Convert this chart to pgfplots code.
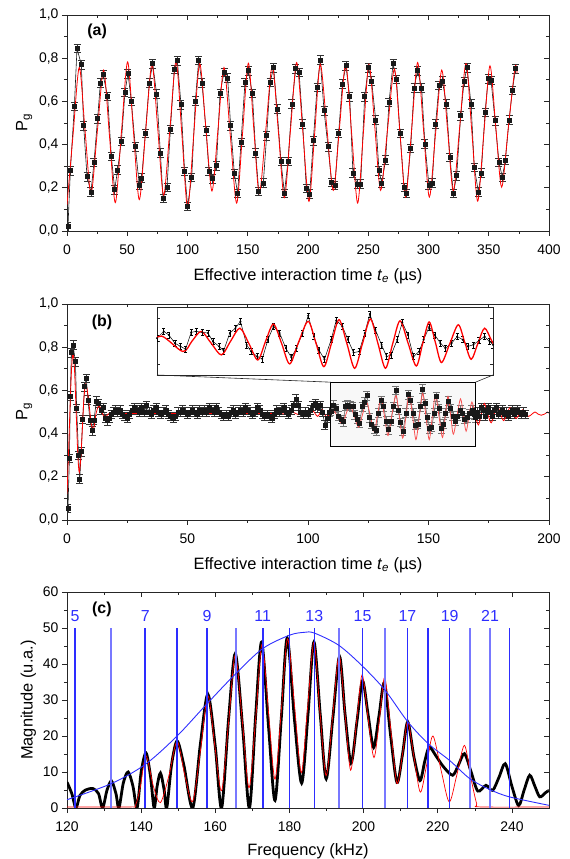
\documentclass[border=0pt]{standalone}
\usepackage{fontspec}
\setmainfont{Liberation Sans}
\usepackage{pgfplots}
\usepackage{pgfplotstable}
\pgfplotsset{compat=1.18}

\definecolor{lineblue}{RGB}{45,45,255}
\definecolor{lightblue}{RGB}{120,120,255}

\pgfplotsset{
  panel/.style={width=482bp, height=216bp, scale only axis,
    axis line style={line width=0.9pt, black!85},
    tick style={line width=0.7pt, black!85},
    tick align=outside, tick pos=left,
    major tick length=5bp, minor tick length=3bp, minor tick num=1,
    tick label style={font=\fontsize{14}{16}\selectfont},
    label style={font=\fontsize{16.5}{19}\selectfont},
    xticklabel shift=5bp, xlabel style={yshift=-7bp},
    /pgf/number format/assume math mode=true},
  frameticks/.style={width=482bp, height=216bp, scale only axis,
    axis line style={draw=none},
    tick style={line width=0.7pt, black!85},
    tick align=inside, tick pos=right,
    major tick length=5bp, minor tick length=3bp, minor tick num=1,
    xticklabels={}, yticklabels={}},
  commaticks/.style={yticklabel style={/pgf/number format/.cd, use comma, fixed, fixed zerofill, precision=1}},
  datapts/.style={black!90, line width=0.6pt, mark=square*, mark size=2bp,
    error bars/.cd, y dir=both, y fixed=0.02,
    error bar style={line width=0.6pt, black!80},
    error mark options={rotate=90, mark size=3.5bp, line width=0.6pt}},
}

% panel (a): measured P_g
\pgfplotstableread{
t v
0.8 0.02
2.8 0.28
6.1 0.577
8.3 0.845
11.9 0.77
13.8 0.488
16.6 0.252
19.9 0.18
22.4 0.318
25.4 0.52
27.7 0.685
29.9 0.726
33.7 0.623
36.8 0.345
39.6 0.192
42.0 0.283
45.1 0.415
48.1 0.642
50.6 0.729
53.4 0.60
56.7 0.39
60.0 0.212
62.0 0.246
65.0 0.452
68.3 0.686
71.1 0.775
74.4 0.634
77.5 0.362
79.7 0.152
83.0 0.203
85.8 0.471
89.1 0.748
91.6 0.789
94.6 0.585
97.6 0.277
100.1 0.115
103.5 0.249
106.5 0.602
109.3 0.791
112.0 0.686
115.4 0.465
117.8 0.277
120.9 0.242
124.0 0.303
127.0 0.638
130.3 0.734
133.3 0.708
135.8 0.488
138.9 0.265
141.6 0.174
144.4 0.411
147.7 0.688
150.5 0.742
153.8 0.637
156.6 0.362
159.1 0.183
162.9 0.222
165.7 0.442
168.5 0.688
171.5 0.757
174.3 0.565
177.6 0.322
180.4 0.175
183.4 0.323
186.7 0.588
189.8 0.751
192.6 0.734
195.6 0.495
198.6 0.197
201.4 0.172
204.4 0.418
207.5 0.665
210.2 0.792
213.3 0.557
216.6 0.391
219.6 0.226
222.4 0.211
225.4 0.452
228.5 0.68
231.5 0.765
234.6 0.622
237.3 0.268
240.9 0.218
243.7 0.218
247.0 0.622
250.1 0.757
252.8 0.695
256.2 0.514
258.9 0.28
261.2 0.223
264.4 0.329
267.2 0.595
270.6 0.775
273.4 0.703
276.4 0.452
279.7 0.203
281.6 0.175
285.2 0.383
288.0 0.662
291.0 0.742
294.3 0.662
297.0 0.403
300.4 0.211
303.1 0.222
305.9 0.495
308.7 0.675
311.5 0.695
314.8 0.588
317.8 0.342
320.6 0.175
323.4 0.257
326.7 0.534
329.5 0.691
332.0 0.757
335.3 0.588
338.0 0.295
341.4 0.18
343.8 0.269
346.9 0.549
349.6 0.706
351.9 0.698
355.2 0.511
358.5 0.318
361.3 0.249
363.8 0.329
366.9 0.514
369.6 0.652
372.3 0.752
}\adata

% panel (a): fit
\pgfplotstableread{
t v
0 0.12
5.1 0.45
10.2 0.757
15.05 0.46
19.9 0.172
25.15 0.46
30.4 0.745
35.25 0.44
40.1 0.131
45.2 0.46
50.3 0.783
55.15 0.46
60.0 0.145
65.25 0.46
70.5 0.772
75.35 0.47
80.2 0.165
85.35 0.47
90.5 0.785
95.3 0.45
100.1 0.108
105.1 0.44
110.1 0.775
115.2 0.48
120.3 0.185
125.3 0.47
130.3 0.757
135.55 0.44
140.8 0.129
145.65 0.45
150.5 0.777
155.05 0.47
159.6 0.172
165.0 0.47
170.4 0.765
175.4 0.46
180.4 0.154
185.5 0.47
190.6 0.78
195.7 0.46
200.8 0.137
205.5 0.45
210.2 0.772
215.6 0.48
221.0 0.188
226.15 0.48
231.3 0.772
236.25 0.45
241.2 0.129
245.9 0.45
250.6 0.772
255.45 0.48
260.3 0.188
266.0 0.47
271.7 0.75
276.35 0.45
281.0 0.157
286.0 0.47
291.0 0.78
295.85 0.47
300.7 0.157
305.85 0.45
311.0 0.745
315.8 0.47
320.6 0.185
325.85 0.48
331.1 0.775
335.95 0.46
340.8 0.138
345.9 0.45
351.0 0.765
355.85 0.48
360.7 0.203
366.25 0.48
371.8 0.757
373.5 0.73
}\afit

% panel (b): measured P_g
\pgfplotstableread{
t v
0.4 0.054
1.0 0.285
1.4 0.574
1.8 0.775
2.5 0.81
3.5 0.733
4.0 0.517
4.8 0.30
5.3 0.19
5.9 0.316
6.5 0.466
7.3 0.617
8.0 0.656
8.7 0.556
9.5 0.463
10.4 0.414
11.2 0.463
12.2 0.551
13.1 0.54
14.1 0.509
15.0 0.52
15.8 0.47
16.6 0.46
17.5 0.47
18.3 0.49
19.2 0.50
20.0 0.51
21.0 0.50
22.0 0.51
23.0 0.49
24.0 0.48
25.0 0.47
26.0 0.49
27.0 0.51
28.0 0.52
29.0 0.51
30.0 0.50
31.0 0.52
32.0 0.50
33.0 0.53
34.0 0.50
35.0 0.49
36.0 0.51
37.0 0.52
38.0 0.50
39.0 0.49
40.0 0.50
41.0 0.51
42.0 0.49
43.0 0.48
44.0 0.47
45.0 0.48
46.0 0.50
47.0 0.50
48.0 0.51
49.0 0.50
50.0 0.49
51.0 0.50
52.0 0.51
53.0 0.50
54.0 0.49
55.0 0.51
56.0 0.50
57.0 0.51
58.0 0.50
59.0 0.52
60.0 0.51
61.0 0.50
62.0 0.52
63.0 0.50
64.0 0.49
65.0 0.48
66.0 0.49
67.0 0.48
68.0 0.50
69.0 0.51
70.0 0.49
71.0 0.50
72.0 0.51
73.0 0.50
74.0 0.52
75.0 0.51
76.0 0.50
77.0 0.49
78.0 0.50
79.0 0.52
80.0 0.51
81.0 0.49
82.0 0.48
83.0 0.49
84.0 0.48
85.0 0.47
86.0 0.49
87.0 0.51
88.0 0.50
89.0 0.51
90.0 0.52
91.0 0.50
92.0 0.49
93.0 0.51
94.0 0.53
95.0 0.56
96.0 0.53
97.0 0.50
98.0 0.49
99.0 0.50
100.0 0.49
101.0 0.51
102.0 0.53
103.0 0.54
104.0 0.52
105.0 0.53
106.0 0.50
107.0 0.44
108.0 0.47
108.8 0.50
109.5 0.503
110.7 0.532
111.6 0.517
112.7 0.481
113.7 0.467
114.6 0.455
115.6 0.528
116.5 0.532
117.6 0.528
118.6 0.525
119.5 0.488
120.6 0.467
121.4 0.448
122.5 0.525
123.5 0.546
124.4 0.576
125.5 0.474
126.3 0.445
127.4 0.423
128.3 0.413
129.3 0.496
130.3 0.554
131.4 0.525
132.5 0.459
133.5 0.419
134.4 0.459
135.5 0.525
136.5 0.600
137.5 0.510
138.4 0.452
139.4 0.411
140.6 0.496
141.5 0.580
142.6 0.554
143.6 0.496
144.6 0.440
145.6 0.445
146.6 0.525
147.5 0.607
148.5 0.539
149.6 0.474
150.5 0.423
151.3 0.430
152.4 0.496
153.3 0.571
154.3 0.517
155.3 0.423
156.3 0.445
157.1 0.496
158.1 0.551
159.1 0.517
160.1 0.481
161.0 0.459
162.1 0.481
163.1 0.510
164.1 0.496
165.0 0.467
166.0 0.474
167.0 0.493
168.0 0.510
168.9 0.488
169.5 0.474
170.3 0.50
171.0 0.48
171.8 0.52
172.6 0.51
173.4 0.48
174.2 0.50
175.0 0.52
175.8 0.50
176.6 0.48
177.4 0.51
178.2 0.52
179.0 0.49
179.8 0.50
180.6 0.51
181.4 0.49
182.2 0.50
183.0 0.48
183.8 0.50
184.6 0.51
185.4 0.49
186.2 0.50
187.0 0.51
187.8 0.50
188.6 0.49
189.4 0.50
190.2 0.49
}\bdata

% panel (b): fit
\pgfplotstableread{
t v
0 0.12
0.6 0.30
1.2 0.50
1.9 0.70
2.5 0.77
3.1 0.70
3.8 0.50
4.5 0.30
5.1 0.22
5.8 0.30
6.4 0.43
7.0 0.56
7.7 0.63
8.4 0.60
9.2 0.53
10.0 0.45
10.8 0.42
11.4 0.44
12.0 0.49
13.2 0.53
14.4 0.50
15.7 0.475
17.0 0.49
18.5 0.497
20 0.493
40 0.493
60 0.493
80 0.493
88 0.493
90 0.491
92 0.495
94 0.498
96 0.488
98 0.500
100 0.484
102 0.505
104 0.480
106 0.510
107.8 0.475
110.3 0.512
114.1 0.445
115.75 0.49
117.4 0.532
119.2 0.48
121.0 0.430
122.65 0.49
124.3 0.546
125.9 0.48
127.5 0.408
128.9 0.49
130.3 0.564
131.75 0.48
133.2 0.391
134.85 0.49
136.5 0.576
137.9 0.48
139.3 0.379
140.65 0.48
142.0 0.583
143.4 0.48
144.8 0.372
146.2 0.48
147.6 0.586
148.95 0.48
150.3 0.372
151.6 0.48
152.9 0.578
154.35 0.48
155.8 0.382
156.95 0.48
158.1 0.573
159.2 0.485
160.3 0.397
161.8 0.48
163.3 0.561
164.45 0.485
165.6 0.411
166.8 0.48
168.0 0.546
169.3 0.49
170.7 0.44
171.9 0.49
173.2 0.54
174.6 0.49
176.0 0.45
177.3 0.49
178.6 0.53
179.9 0.49
181.2 0.46
182.5 0.49
183.8 0.52
185.1 0.49
186.4 0.47
187.7 0.49
189.0 0.51
190.3 0.49
191.6 0.48
192.9 0.49
194.2 0.50
195.5 0.49
196.8 0.485
198.1 0.49
199.4 0.50
200 0.495
}\bfit

% panel (c): spectrum of the data
\pgfplotstableread{
f m
120 7.2
121.3 4
122.4 0
123.5 3.5
125 5.0
127 5.4
128.5 4
129.6 0
130.8 5
132.0 7.5
133.2 4
134.0 0
135.2 7
136.5 10.0
137.8 6
138.9 0
140.0 10
141.3 15.3
142.5 9
143.5 0
144.3 6
145.2 9.7
146.2 5
146.9 0
148.2 12
149.7 18.6
151.5 12
153.9 0
156.0 18
158.0 31.6
160.0 17
161.7 0
163.6 25
165.4 42.9
167.4 22
169.2 0
170.9 26
172.5 46.1
174.4 22
176.1 2.1
177.8 25
179.4 47.2
181.4 24
183.3 6.9
185.0 26
186.6 46.1
188.3 26
189.9 8.1
191.7 25
193.5 42.1
195.0 26
196.6 12.5
198.2 24
199.7 35.3
201.2 26
202.7 16.8
204.2 26
205.6 34.7
207.3 20
209.0 7.1
210.5 15
211.9 23.9
213.6 14
215.2 7.6
216.5 13
217.7 16.9
219.5 14.5
221.5 11.5
224.0 9.1
225.6 12
227.2 15.1
229.0 10
230.8 4.7
233.0 6.3
234.8 4.9
236.5 8.5
238.2 12.3
240.0 6
241.8 0.7
243.3 5
244.8 9.1
246.2 6
247.5 3.1
249.0 4.2
250 4.9
}\cdata

% panel (c): spectrum of the fit
\pgfplotstableread{
f m
120 0.3
137 0.3
138.5 0.8
139.8 6
141.3 14.5
143.3 6
145.2 1.5
147.5 9
149.7 18.5
151.8 9
153.9 1.8
156 16
158.0 31.2
159.9 17
161.7 4.8
163.6 24
165.4 42.5
167.3 24
169.1 5.6
170.9 25
172.6 45.5
174.4 26
176.1 8.0
177.8 27
179.5 47.0
181.4 28
183.2 9.8
184.9 28
186.6 46.0
188.2 27
189.9 9.0
191.7 26
193.4 42.5
195.0 26
196.5 10.5
198.1 24
199.6 37.0
201.2 25
202.8 14.0
204.3 25
205.7 36.3
207.4 21
209.0 6.8
210.5 15
211.9 24.0
213.6 14
215.3 4.4
217.0 12
218.7 20.0
221.0 10
223.1 1.7
225.1 9
227.2 17.4
229.0 8
230.5 1.2
231.5 0.3
250 0.3
}\cfit

% panel (c): envelope
\pgfplotstableread{
f m
120 2.3
132.0 6.8
141.1 12.1
149.6 19.9
157.8 29.0
165.5 37.3
172.8 44.3
180.0 48.0
184.0 48.8
186.7 48.6
193.3 45.2
199.7 39.4
205.8 32.7
211.8 24.1
217.4 17.9
223.2 13.2
228.7 8.1
234.1 5.1
239.3 3.1
250 0.74
}\cenv

\begin{document}
\begin{tikzpicture}
\useasboundingbox (0,0) rectangle (570bp,859bp);

% ---------- (a)
\begin{axis}[panel, commaticks, at={(67bp,628bp)}, anchor=south west,
  xmin=0, xmax=400, ymin=0, ymax=1, xtick distance=50, ytick distance=0.2,
  xlabel={Effective interaction time \textit{t}\textsubscript{\textit{e}} (µs)},
  ylabel={P\textsubscript{g}}]
  \addplot[datapts] table {\adata};
  \addplot[red, line width=0.8pt, smooth, no markers] table {\afit};
  \node[font=\bfseries\fontsize{16}{18}\selectfont] at (axis cs:25,0.925) {(a)};
\end{axis}
\begin{axis}[frameticks, at={(67bp,628bp)}, anchor=south west,
  xmin=0, xmax=400, ymin=0, ymax=1, xtick distance=50, ytick distance=0.2]
\end{axis}

% ---------- (b)
\begin{axis}[panel, commaticks, at={(67bp,339bp)}, anchor=south west,
  xmin=0, xmax=200, ymin=0, ymax=1, xtick distance=50, ytick distance=0.2,
  xlabel={Effective interaction time \textit{t}\textsubscript{\textit{e}} (µs)},
  ylabel={P\textsubscript{g}}]
  \addplot[datapts] table {\bdata};
  \addplot[red, line width=0.8pt, smooth, no markers] table {\bfit};
  \addplot[draw=black, line width=0.8pt, fill=gray!15, fill opacity=0.35] coordinates
    {(109.5,0.343) (169.5,0.343) (169.5,0.638) (109.5,0.638)} -- cycle;
  \coordinate (btl) at (axis cs:109.5,0.638);
  \coordinate (btr) at (axis cs:169.5,0.638);
  \node[font=\bfseries\fontsize{16}{18}\selectfont] at (axis cs:14.5,0.915) {(b)};
\end{axis}
\begin{axis}[frameticks, at={(67bp,339bp)}, anchor=south west,
  xmin=0, xmax=200, ymin=0, ymax=1, xtick distance=50, ytick distance=0.2]
\end{axis}

% inset of (b)
\begin{axis}[name=inset, at={(157bp,484bp)}, anchor=south west,
  width=336bp, height=68bp, scale only axis,
  xmin=109.5, xmax=169.5, ymin=0.343, ymax=0.638,
  axis background/.style={fill=white},
  axis line style={line width=0.8pt, black!85},
  xtick=\empty, ytick={0.39,0.49,0.59}, yticklabels={},
  tick align=inside, tick pos=both, major tick length=3bp,
  tick style={line width=0.6pt, black!85}]
  \addplot[black, line width=0.5pt, mark=*, mark size=0.7bp,
    error bars/.cd, y dir=both, y fixed=0.013,
    error bar style={line width=0.5pt},
    error mark options={rotate=90, mark size=1.6bp, line width=0.5pt}] table {\bdata};
  \addplot[red, line width=1.3pt, smooth, no markers] table {\bfit};
\end{axis}
\draw[black!85, line width=0.6pt] (inset.south west) -- (btl);
\draw[black!85, line width=0.6pt] (inset.south east) -- (btr);

% ---------- (c)
\begin{axis}[panel, at={(67bp,51bp)}, anchor=south west,
  xmin=120, xmax=250, ymin=0, ymax=60, xtick={120,140,...,240}, ytick distance=10,
  xlabel={Frequency (kHz)}, ylabel={Magnitude (u.a.)}, xlabel style={yshift=2bp}]
  \addplot[black, line width=2.8pt, smooth, no markers] table {\cdata};
  \addplot[red, line width=0.7pt, smooth, no markers] table {\cfit};
  \pgfplotsinvokeforeach{122.2,141.1,149.6,157.8,172.8,180.0,186.7,199.7,211.8,217.4,223.2,239.3}{
    \addplot[lineblue, line width=1.6pt, no markers] coordinates {(#1,0) (#1,50)};
  }
  \pgfplotsinvokeforeach{132.0,165.5,193.3,205.8,228.7,234.1}{
    \addplot[lightblue, line width=2pt, no markers] coordinates {(#1,0) (#1,50)};
  }
  \addplot[lineblue, line width=0.9pt, smooth, no markers] table {\cenv};
  \node[font=\bfseries\fontsize{16}{18}\selectfont] at (axis cs:129.4,55.3) {(c)};
  \begin{scope}[every node/.style={lineblue, font=\fontsize{16}{18}\selectfont}]
    \node at (axis cs:122.2,53.4) {5};
    \node at (axis cs:141.1,53.4) {7};
    \node at (axis cs:157.8,53.4) {9};
    \node at (axis cs:172.8,53.4) {11};
    \node at (axis cs:186.7,53.4) {13};
    \node at (axis cs:199.7,53.4) {15};
    \node at (axis cs:211.8,53.4) {17};
    \node at (axis cs:223.2,53.4) {19};
    \node at (axis cs:234.1,53.4) {21};
  \end{scope}
\end{axis}
\begin{axis}[frameticks, at={(67bp,51bp)}, anchor=south west,
  xmin=120, xmax=250, ymin=0, ymax=60, xtick={120,140,...,240}, ytick distance=10]
\end{axis}
\end{tikzpicture}
\end{document}
